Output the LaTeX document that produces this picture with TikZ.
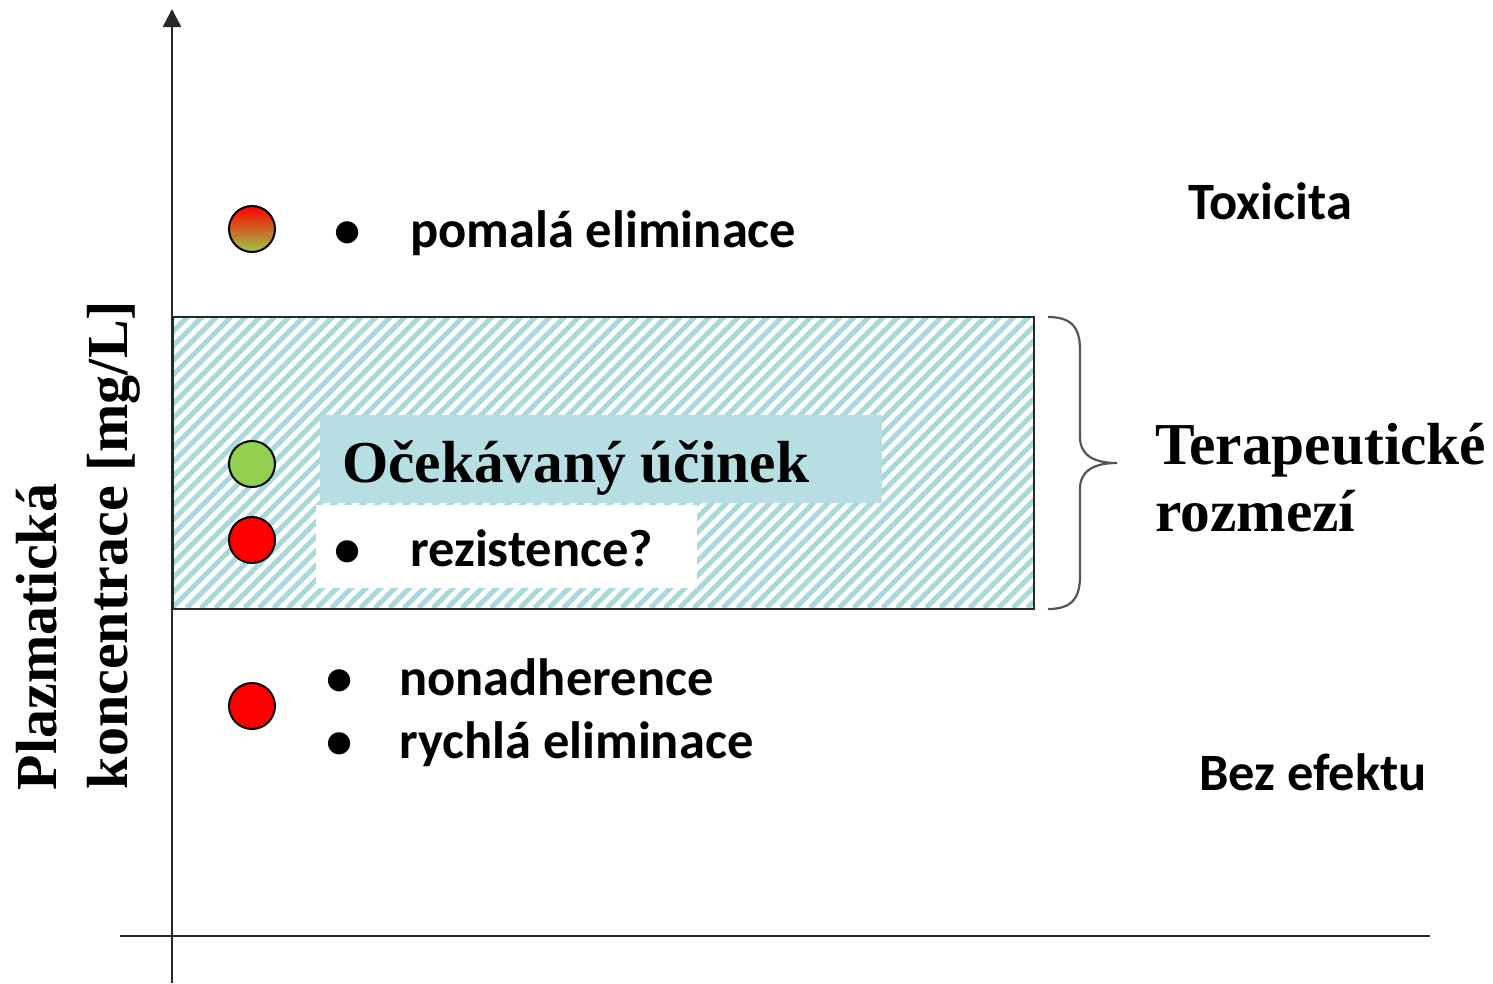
\documentclass[tikz,border=0pt]{standalone}
\usepackage{fontspec}
\newfontfamily\calfont{Carlito}
\newfontfamily\serfont{Liberation Serif}
\usetikzlibrary{arrows.meta}
\definecolor{hatchc}{RGB}{170,217,221}
\definecolor{tealbox}{RGB}{183,223,227}
\definecolor{axisgray}{RGB}{40,40,40}
\definecolor{dotgreen}{RGB}{146,208,80}
\definecolor{shadegreen}{RGB}{158,200,70}
\definecolor{bracegray}{RGB}{85,85,85}
\begin{document}
\begin{tikzpicture}[x=1pt,y=-1pt,
  cal/.style={font=\calfont\bfseries\fontsize{52.5}{60}\selectfont, inner sep=0, anchor=base west},
  ser/.style={font=\serfont\bfseries\fontsize{59.4}{70}\selectfont, inner sep=0, anchor=base west},
  ylab/.style={font=\serfont\bfseries\fontsize{58}{70}\selectfont, inner sep=0, anchor=base, rotate=90},
  dotc/.style={circle, draw=black, line width=2pt, minimum size=46pt, inner sep=0},
  axisline/.style={draw=axisgray, line width=2.6pt},
  bul/.style={cal, anchor=base},
  hatchline/.style={draw=hatchc, line width=5pt},
]
\useasboundingbox (0,0) rectangle (1493,983);
% axes
\coordinate (ybot) at (172,983);
\coordinate (ytop) at (172,9);
\coordinate (xl) at (120,936);
\coordinate (xr) at (1430,936);
\draw[axisline, -{Triangle[length=18pt,width=18pt]}] (ybot) -- (ytop);
\draw[axisline] (xl) -- (xr);
% therapeutic range with manual hatching
\begin{scope}
\clip (172,316) rectangle (1033,608);
\foreach \k in {-22,...,62} {
  \draw[hatchline] (172+\k*14.5,608) -- (464+\k*14.5,316);
}
\end{scope}
\node[draw=axisgray, line width=1.6pt, minimum width=861pt, minimum height=292pt, anchor=north west, inner sep=0] (range) at (172,316) {};
\node[fill=tealbox, minimum width=562pt, minimum height=88pt, anchor=north west, inner sep=0] (effbox) at (320,415) {};
\node[fill=white, minimum width=381pt, minimum height=83pt, anchor=north west, inner sep=0] (resbox) at (316,505) {};
% brace
\draw[draw=bracegray, line width=2.2pt] (1048,317) .. controls (1072,317) and (1080,328) .. (1080,350) -- (1080,437) .. controls (1080,456) and (1095,463) .. (1117,463) .. controls (1095,463) and (1080,470) .. (1080,489) -- (1080,576) .. controls (1080,598) and (1072,609) .. (1048,609);
% circles
\node[dotc, top color=red, bottom color=shadegreen] (c1) at (252,229) {};
\node[dotc, fill=dotgreen] (c2) at (252,464) {};
\node[dotc, fill=red] (c3) at (252,540) {};
\node[dotc, fill=red] (c4) at (252,706) {};
% texts
\node[bul] (b1) at (348,247) {•};
\node[cal] (t1) at (410,247) {pomalá eliminace};
\node[cal] (tox) at (1188,219) {Toxicita};
\node[ser] (eff) at (342,482) {Očekávaný účinek};
\node[bul] (b2) at (348,566) {•};
\node[cal] (t2) at (410,566) {rezistence?};
\node[ser] (ter1) at (1155,464) {Terapeutické};
\node[ser] (ter2) at (1155,531) {rozmezí};
\node[bul] (b3) at (340,695) {•};
\node[cal] (t3) at (399,695) {nonadherence};
\node[bul] (b4) at (340,758) {•};
\node[cal] (t4) at (399,758) {rychlá eliminace};
\node[cal] (bez) at (1199,790) {Bez efektu};
% y label
\node[ylab] (yl1) at (56,637) {Plazmatická};
\node[ylab] (yl2) at (127,545) {koncentrace [mg/L]};
\end{tikzpicture}
\end{document}
